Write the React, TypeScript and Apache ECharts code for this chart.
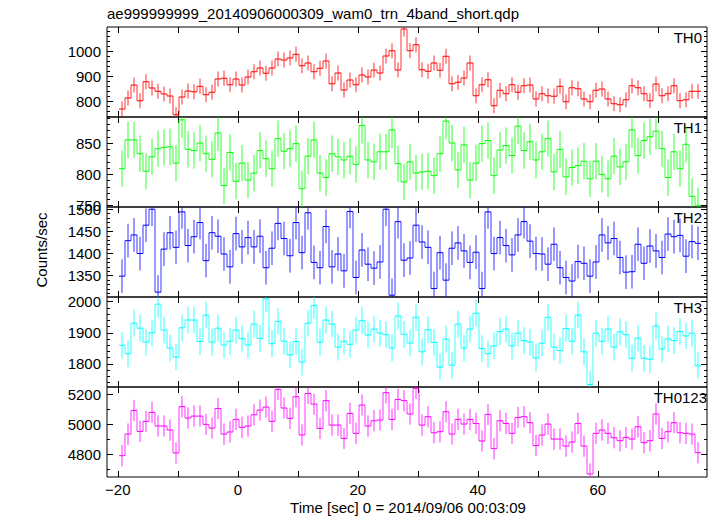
import React, { useEffect, useRef } from "react";
import * as echarts from "echarts";

// ---- data (1-s bins, first bin starts at -19.8 s) ----
const BIN_START = -19.8;
const BIN_WIDTH = 1;

const th0 = [768, 812, 864, 801, 877, 852, 839, 828, 820, 745, 816, 840, 837, 859, 825, 835, 888, 891, 865, 888,
  864, 896, 917, 932, 911, 932, 968, 964, 972, 987, 941, 952, 917, 931, 960, 869, 912, 844, 884, 865,
  904, 896, 924, 912, 980, 1001, 924, 1088, 1001, 1025, 925, 919, 952, 923, 979, 869, 875, 892, 952, 821,
  865, 885, 781, 843, 829, 865, 835, 861, 864, 808, 829, 821, 819, 859, 797, 853, 849, 808, 797, 843,
  848, 808, 789, 785, 805, 861, 853, 829, 801, 868, 821, 829, 861, 801, 805, 839, 839];

const th1 = [809, 855, 855, 833, 805, 828, 841, 843, 844, 818, 887, 840, 838, 850, 833, 824, 866, 782, 835, 789,
  818, 791, 802, 838, 825, 809, 857, 837, 841, 849, 777, 829, 855, 802, 795, 833, 828, 823, 829, 816,
  878, 823, 820, 836, 836, 871, 817, 788, 820, 802, 804, 805, 798, 833, 885, 850, 807, 847, 791, 818,
  849, 854, 798, 839, 846, 830, 877, 838, 852, 823, 836, 857, 804, 840, 796, 811, 814, 821, 793, 821,
  800, 793, 829, 812, 820, 871, 830, 854, 860, 869, 841, 795, 836, 809, 848, 765, 750];

const th2 = [1349, 1429, 1442, 1400, 1464, 1500, 1313, 1410, 1447, 1414, 1494, 1418, 1438, 1470, 1384, 1447, 1439, 1399, 1370, 1445,
  1415, 1436, 1415, 1439, 1368, 1412, 1468, 1434, 1395, 1470, 1402, 1492, 1380, 1368, 1461, 1370, 1399, 1361, 1495, 1346,
  1408, 1376, 1367, 1381, 1500, 1306, 1472, 1385, 1390, 1464, 1426, 1414, 1321, 1402, 1340, 1412, 1424, 1406, 1380, 1403,
  1321, 1494, 1400, 1436, 1418, 1397, 1442, 1472, 1428, 1400, 1399, 1376, 1421, 1368, 1346, 1338, 1382, 1378, 1349, 1381,
  1442, 1424, 1434, 1391, 1358, 1359, 1421, 1378, 1417, 1406, 1391, 1444, 1438, 1441, 1394, 1427, 1423];

const th3 = [1860, 1833, 1931, 1915, 1870, 1900, 1992, 1909, 1851, 1822, 1916, 1941, 1941, 1872, 1957, 1870, 1915, 1861, 1873, 1909,
  1881, 1861, 1928, 1882, 2009, 1865, 1937, 1873, 1829, 1872, 1806, 1931, 1988, 1870, 1941, 1928, 1854, 1873, 1863, 1909,
  1939, 1893, 1912, 1899, 1894, 1851, 1954, 1895, 1867, 1950, 1839, 1910, 1869, 1790, 1880, 1796, 1928, 1851, 1912, 1963,
  1849, 1833, 1858, 1904, 1912, 1858, 1899, 1875, 1870, 1819, 1867, 1950, 1854, 1843, 1914, 1873, 1957, 1839, 1734, 1899,
  1873, 1912, 1854, 1903, 1894, 1818, 1883, 1818, 1815, 1922, 1848, 1880, 1875, 1904, 1890, 1899, 1794];

const th0123 = [4789, 4933, 5091, 4951, 5018, 5078, 4987, 4987, 4960, 4807, 5116, 5040, 5053, 5053, 4998, 4973, 5104, 4933, 4947, 5031,
  4978, 4987, 5062, 5093, 5113, 5018, 5231, 5107, 5038, 5182, 4927, 5204, 5133, 4971, 5156, 4993, 4993, 4904, 5071, 4938,
  5127, 4987, 5022, 5027, 5209, 5031, 5164, 5156, 5067, 5238, 4993, 5049, 4942, 4949, 5082, 4933, 5031, 5000, 5031, 5004,
  4887, 5064, 4836, 5022, 5004, 4938, 5044, 5049, 5009, 4856, 4927, 5000, 4900, 4900, 4853, 4880, 5004, 4853, 4667, 4938,
  4960, 4938, 4909, 4889, 4911, 4900, 4982, 4876, 4889, 5067, 4904, 4949, 5009, 4942, 4938, 4933, 4809];

const bandSeries = [th0, th1, th2, th3, th0123];
const bandNames = ["TH0", "TH1", "TH2", "TH3", "TH0123"];
const bandErrors = [30, 29, 38, 43, 71];
const bandColors = ["#ff0000", "#00ff00", "#0000ff", "#00ffff", "#ff00ff"];
const yMins = [736, 748, 1302, 1726, 4647];
const yMaxs = [1096, 891.5, 1505, 2015, 5247];
const yLabelTicks = [
  [800, 900, 1000],
  [750, 800, 850],
  [1350, 1400, 1450, 1500],
  [1800, 1900, 2000],
  [4800, 5000, 5200],
];
const yMinorSteps = [20, 10, 10, 20, 100];
const xMin = -21.8;
const xMax = 78.2;
const xLabelTicks = [-20, 0, 20, 40, 60];
const xAllTicks = [-20, -10, 0, 10, 20, 30, 40, 50, 60, 70];

const titleText = "ae999999999_20140906000309_wam0_trn_4band_short.qdp";
const yTitle = "Counts/sec";
const xTitle = "Time [sec] 0 = 2014/09/06 00:03:09";

// ---- layout ----
const GRID_LEFT = 107;
const GRID_WIDTH = 600;
const GRID_TOPS = [27, 117, 207, 297, 387];
const GRID_H = 90;
const FONT = "'Liberation Sans', Arial, Helvetica, sans-serif";
const FS = 15;

function minorTicks(min: number, max: number, step: number, majors: number[]) {
  const out: number[] = [];
  let v = Math.ceil(min / step) * step;
  while (v <= max) {
    if (!majors.includes(v)) out.push(v);
    v += step;
  }
  return out;
}

export default function App() {
  const ref = useRef<HTMLDivElement>(null);
  useEffect(() => {
    document.body.style.margin = "0";
    const chart = echarts.init(ref.current!, null, { renderer: "svg" });
    const grid: any[] = [];
    const xAxis: any[] = [];
    const yAxis: any[] = [];
    const series: any[] = [];
    const graphic: any[] = [];

    for (let i = 0; i < 5; i++) {
      grid.push({
        left: GRID_LEFT,
        width: GRID_WIDTH,
        top: GRID_TOPS[i],
        height: GRID_H,
        show: true,
        borderColor: "#000",
        borderWidth: 1,
        backgroundColor: "transparent",
      });
      for (const pos of ["bottom", "top"]) {
        xAxis.push({
          type: "value",
          gridIndex: i,
          position: pos,
          min: xMin,
          max: xMax,
          axisLine: { show: false, onZero: false },
          splitLine: { show: false },
          axisTick: {
            show: true,
            inside: true,
            length: 6,
            customValues: xAllTicks,
            lineStyle: { color: "#000", width: 1 },
          },
          axisLabel: {
            show: pos === "bottom" && i === 4,
            customValues: xLabelTicks,
            margin: 5,
            color: "#000",
            fontFamily: FONT,
            fontSize: FS,
            formatter: (v: number) => String(v).replace("-", "\u2212"),
          },
        });
      }
      const majors = yLabelTicks[i];
      const minors = minorTicks(yMins[i], yMaxs[i], yMinorSteps[i], majors);
      for (const pos of ["left", "right"]) {
        yAxis.push({
          type: "value",
          gridIndex: i,
          position: pos,
          min: yMins[i],
          max: yMaxs[i],
          axisLine: { show: false, onZero: false },
          splitLine: { show: false },
          axisTick: {
            show: true,
            inside: true,
            length: 6,
            customValues: majors,
            lineStyle: { color: "#000", width: 1 },
          },
          axisLabel: {
            show: pos === "left",
            customValues: majors,
            margin: 6,
            color: "#000",
            fontFamily: FONT,
            fontSize: FS,
            formatter: (v: number) => String(v),
          },
        });
        yAxis.push({
          type: "value",
          gridIndex: i,
          position: pos,
          min: yMins[i],
          max: yMaxs[i],
          axisLine: { show: false, onZero: false },
          splitLine: { show: false },
          axisTick: {
            show: true,
            inside: true,
            length: 3,
            customValues: minors,
            lineStyle: { color: "#000", width: 1 },
          },
          axisLabel: { show: false },
        });
      }

      const vals = bandSeries[i];
      const err = bandErrors[i];
      const color = bandColors[i];
      const data = vals.map((v, k) => [
        BIN_START + BIN_WIDTH * (k + 0.5),
        v,
        k < vals.length - 1 ? vals[k + 1] : v,
        err,
      ]);
      series.push({
        type: "custom",
        xAxisIndex: 2 * i,
        yAxisIndex: 4 * i,
        data,
        encode: { x: 0, y: 1 },
        silent: true,
        renderItem: (params: any, api: any) => {
          const cs = params.coordSys;
          const clampY = (y: number) => Math.max(cs.y, Math.min(cs.y + cs.height, y));
          const t = api.value(0);
          const v = api.value(1);
          const nx = api.value(2);
          const e = api.value(3);
          const pl = api.coord([t - BIN_WIDTH / 2, v]);
          const pr = api.coord([t + BIN_WIDTH / 2, v]);
          const pc = api.coord([t, v]);
          const pt = api.coord([t, v + e]);
          const pb = api.coord([t, v - e]);
          const pn = api.coord([t + BIN_WIDTH / 2, nx]);
          const st = { stroke: color, lineWidth: 1, fill: null };
          const sv = { stroke: color, lineWidth: 1, fill: null, opacity: 0.8 };
          return {
            type: "group",
            children: [
              { type: "line", shape: { x1: pl[0], y1: clampY(pl[1]), x2: pr[0], y2: clampY(pr[1]) }, style: st },
              { type: "line", shape: { x1: pc[0], y1: clampY(pt[1]), x2: pc[0], y2: clampY(pb[1]) }, style: sv },
              { type: "line", shape: { x1: pr[0], y1: clampY(pr[1]), x2: pn[0], y2: clampY(pn[1]) }, style: sv },
            ],
          };
        },
      });

      graphic.push({
        type: "text",
        right: i === 4 ? 10 : 15,
        top: GRID_TOPS[i] + 3,
        style: { text: bandNames[i], fill: "#000", font: `${FS}px ${FONT}` },
      });
    }

    graphic.push({
      type: "text",
      left: 107,
      top: 6,
      style: { text: titleText, fill: "#000", font: `${FS}px ${FONT}` },
    });
    graphic.push({
      type: "text",
      x: 41,
      y: 250,
      rotation: Math.PI / 2,
      style: { text: yTitle, fill: "#000", font: `${FS}px ${FONT}`, align: "center", verticalAlign: "middle" },
    });
    graphic.push({
      type: "text",
      x: 408,
      y: 507,
      style: { text: xTitle, fill: "#000", font: `${FS}px ${FONT}`, align: "center", verticalAlign: "middle" },
    });

    chart.setOption({
      animation: false,
      backgroundColor: "#fff",
      grid,
      xAxis,
      yAxis,
      series,
      graphic,
    });
    return () => chart.dispose();
  }, []);
  return <div ref={ref} style={{ position: "fixed", left: 0, top: 0, width: 717, height: 516 }} />;
}
